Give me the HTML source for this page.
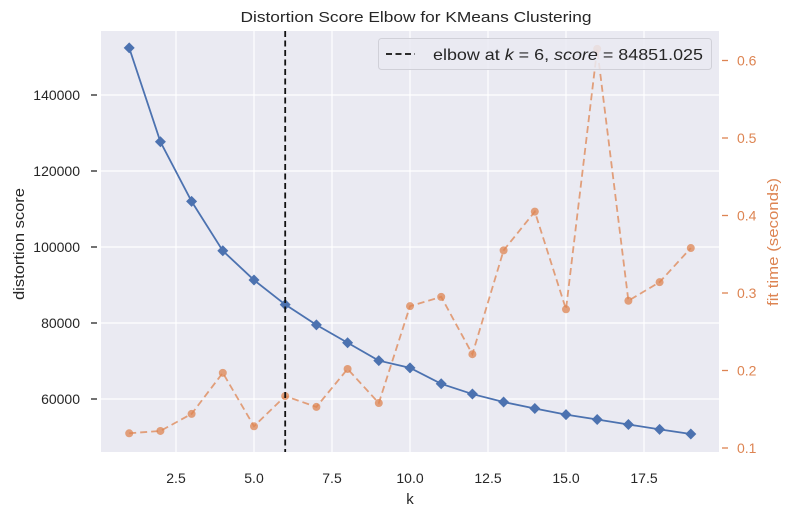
<!DOCTYPE html>
<html><head><meta charset="utf-8">
<style>
html,body{margin:0;padding:0;background:#fff;}
svg{display:block;font-family:"Liberation Sans","DejaVu Sans",sans-serif;}
</style></head>
<body>
<svg id="chart" width="789" height="516" viewBox="0 0 789 516" xmlns="http://www.w3.org/2000/svg"></svg>
<script>
const ks = [1,2,3,4,5,6,7,8,9,10,11,12,13,14,15,16,17,18,19];
const distortion = [152400,127700,112000,99000,91300,84851,79500,74800,70100,68200,64000,61300,59200,57500,55900,54600,53300,52000,50800];
const fitTimes = [0.119,0.122,0.144,0.197,0.128,0.167,0.153,0.202,0.158,0.283,0.295,0.221,0.355,0.405,0.279,0.615,0.290,0.314,0.358];
const xTicks = [2.5,5.0,7.5,10.0,12.5,15.0,17.5];
const yTicks = [60000,80000,100000,120000,140000];
const y2Ticks = [0.1,0.2,0.3,0.4,0.5,0.6];
const elbowK = 6;

const L=101,R=719,T=31,B=452;
const xs = k => 410 + (k-10)*31.2;
const ys = v => 95 - (v-140000)*0.0038;
const y2s = v => 448 - (v-0.1)*775;
const svg = document.getElementById('chart');
const NS='http://www.w3.org/2000/svg';
function mk(tag, attrs, parent){const e=document.createElementNS(NS,tag);for(const k in attrs)e.setAttribute(k,attrs[k]);(parent||svg).appendChild(e);return e;}

const bg = mk('rect',{x:L,y:T,width:R-L,height:B-T,fill:'#eaeaf2'});



xTicks.forEach(t=>{
  const g=mk('line',{x1:xs(t),x2:xs(t),y1:T,y2:B,stroke:'#fff','stroke-width':1.2});
  
  
  const tx=mk('text',{x:xs(t),y:483,'text-anchor':'middle','font-size':14,fill:'#262626'});
  tx.textContent=t.toFixed(1);
  
  
});
yTicks.forEach(t=>{
  const g=mk('line',{x1:L,x2:R,y1:ys(t),y2:ys(t),stroke:'#fff','stroke-width':1.2});
  
  
  const tk=mk('line',{x1:91,x2:97,y1:ys(t),y2:ys(t),stroke:'#262626','stroke-width':1.3});
  
  
  const tx=mk('text',{x:80,y:ys(t)+5,'text-anchor':'end','font-size':14,fill:'#262626'});
  tx.textContent=String(t);
  
  
});
y2Ticks.forEach(t=>{
  const tk=mk('line',{x1:722,x2:728,y1:y2s(t),y2:y2s(t),stroke:'#dd8452','stroke-width':1.3});
  
  
  const tx=mk('text',{x:737,y:y2s(t)+5,'font-size':14,fill:'#dd8452'});
  tx.textContent=t.toFixed(1);
  
  
});

const fp = mk('polyline',{points:ks.map((k,i)=>xs(k)+','+y2s(fitTimes[i])).join(' '),fill:'none',stroke:'#dd8452','stroke-opacity':0.75,'stroke-width':1.8,'stroke-dasharray':'7,4'});


ks.forEach((k,i)=>{
  const c=mk('circle',{cx:xs(k),cy:y2s(fitTimes[i]),r:4,fill:'#dd8452','fill-opacity':0.75});
  
  
});

const dp = mk('polyline',{points:ks.map((k,i)=>xs(k)+','+ys(distortion[i])).join(' '),fill:'none',stroke:'#4c72b0','stroke-width':1.8});


ks.forEach((k,i)=>{
  const x=xs(k),y=ys(distortion[i]),s=5.5;
  const d=mk('polygon',{points:`${x},${y-s} ${x+s},${y} ${x},${y+s} ${x-s},${y}`,fill:'#4c72b0'});
  
  
});

const el=mk('line',{x1:xs(elbowK),x2:xs(elbowK),y1:T,y2:B,stroke:'#111','stroke-width':1.8,'stroke-dasharray':'6,3.5'});



const lg=mk('g',{});


mk('rect',{x:378.5,y:38.5,width:333,height:31,rx:3,fill:'#eaeaf2','fill-opacity':0.85,stroke:'#d0d0d8'},lg);
mk('line',{x1:386,x2:415,y1:54,y2:54,stroke:'#111','stroke-width':1.8,'stroke-dasharray':'6,3.5'},lg);
const lt=mk('text',{x:433,y:60,'font-size':16,fill:'#262626',textLength:270,lengthAdjust:'spacingAndGlyphs'},lg);
lt.innerHTML='elbow at <tspan font-style="italic">k</tspan> = 6, <tspan font-style="italic">score</tspan> = 84851.025';



const title=mk('text',{x:416,y:22,'text-anchor':'middle','font-size':15,fill:'#262626',textLength:351,lengthAdjust:'spacingAndGlyphs'});
title.textContent='Distortion Score Elbow for KMeans Clustering';


const xl=mk('text',{x:410,y:504,'text-anchor':'middle','font-size':15,fill:'#262626'});
xl.textContent='k';


const yl=mk('text',{x:0,y:0,'text-anchor':'middle','font-size':15,fill:'#262626',transform:'translate(24,244) rotate(-90)',textLength:112,lengthAdjust:'spacingAndGlyphs'});
yl.textContent='distortion score';


const y2l=mk('text',{x:0,y:0,'text-anchor':'middle','font-size':15,fill:'#dd8452',transform:'translate(778,242) rotate(-90)',textLength:128,lengthAdjust:'spacingAndGlyphs'});
y2l.textContent='fit time (seconds)';


</script>
</body></html>
